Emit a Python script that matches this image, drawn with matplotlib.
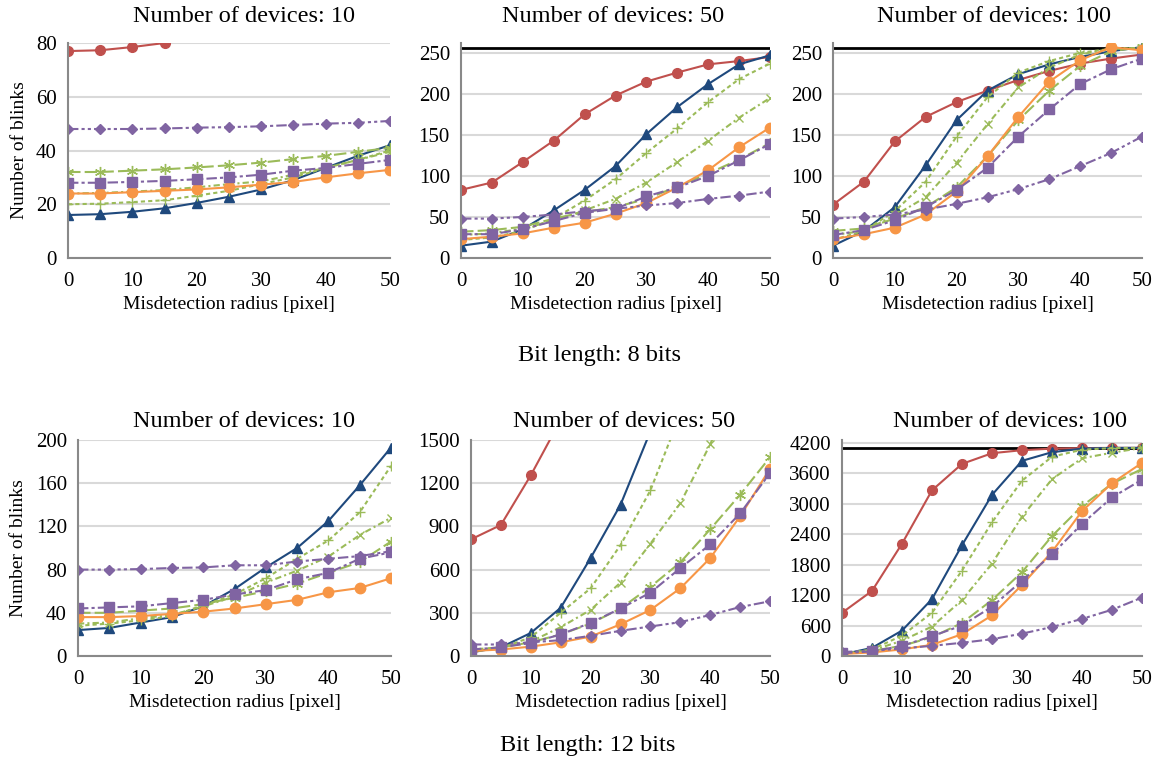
import matplotlib
matplotlib.use("Agg")
import matplotlib.pyplot as plt

plt.rcParams["font.family"] = ["Liberation Serif", "DejaVu Serif"]

# misdetection radius [pixel]
radius = [0, 5, 10, 15, 20, 25, 30, 35, 40, 45, 50]

# series order: red circle, navy triangle, green +, green x, green *,
#               orange circle, purple square, purple diamond
# 8 bits
b8_n10 = [
    [77, 77.3, 78.5, 80, 86, 90, 94, 98, 102, 106, 110],
    [16, 16.3, 17.2, 18.5, 20.5, 22.8, 25.5, 29, 33.5, 38, 42],
    [20, 20.2, 20.8, 21.5, 23.2, 25, 27.5, 30, 33.5, 36.5, 40],
    [24, 24.2, 24.7, 25.3, 26.3, 27.5, 28.5, 31, 33.5, 36.5, 39.5],
    [32, 32, 32.5, 33, 33.7, 34.5, 35.5, 36.8, 38, 39.5, 41],
    [24, 24, 24.5, 25, 25.5, 26.3, 27.3, 28.3, 30, 31.5, 32.8],
    [28, 28, 28.3, 28.7, 29.3, 30, 31, 32.5, 33.5, 35, 36.5],
    [48, 48, 48, 48.2, 48.5, 48.7, 49, 49.5, 50, 50.3, 51],
]
b8_n50 = [
    [83, 92, 117, 143, 175, 198, 215, 226, 236, 240, 245],
    [15, 20, 35, 58, 83, 112, 151, 184, 212, 236, 247],
    [22, 25, 33, 48, 70, 96, 128, 158, 190, 218, 237],
    [28, 30, 36, 45, 58, 72, 92, 117, 143, 171, 195],
    [32, 34, 38, 48, 56, 62, 72, 87, 103, 120, 140],
    [23, 26, 30, 37, 43, 54, 67, 86, 107, 135, 159],
    [29, 29, 35, 45, 55, 60, 75, 86, 100, 119, 139],
    [48, 48, 50, 53, 57, 60, 64, 67, 72, 76, 81],
]
b8_n100 = [
    [65, 93, 142, 172, 190, 204, 217, 228, 237, 243, 248],
    [15, 33, 62, 113, 168, 204, 224, 236, 245, 252, 257],
    [22, 33, 57, 93, 148, 196, 226, 240, 250, 255, 256],
    [28, 33, 52, 74, 116, 163, 208, 232, 248, 255, 256],
    [33, 36, 48, 62, 86, 124, 168, 204, 234, 252, 257],
    [23, 29, 37, 53, 81, 124, 172, 215, 241, 257, 253],
    [28, 34, 46, 62, 83, 110, 148, 181, 212, 230, 243],
    [48, 50, 53, 59, 66, 74, 84, 96, 112, 128, 148],
]
# 12 bits
b12_n10 = [
    [780, 790, 810, 840, 880, 930, 990, 1060, 1140, 1230, 1330],
    [24, 26, 31, 36, 46, 62, 82, 100, 125, 158, 193],
    [28, 30, 33, 37, 47, 57, 72, 90, 107, 133, 176],
    [30, 31, 35, 38, 46, 55, 68, 79, 92, 112, 128],
    [40, 40, 42, 44, 48, 54, 60, 67, 77, 87, 106],
    [36, 36, 37, 39, 41, 44, 48, 52, 59, 63, 72],
    [44, 45, 46, 49, 52, 57, 61, 71, 77, 90, 96],
    [80, 80, 80.5, 81.5, 82, 84, 84, 87.5, 90, 92.5, 97],
]
b12_n50 = [
    [810, 910, 1255, 1640, 2100, 2550, 2950, 3300, 3600, 3800, 3950],
    [25, 60, 160, 335, 680, 1050, 1560, 2100, 2600, 3000, 3300],
    [30, 55, 130, 300, 470, 770, 1150, 1680, 2200, 2650, 3000],
    [35, 60, 100, 200, 320, 510, 780, 1060, 1470, 1950, 2400],
    [45, 60, 95, 150, 225, 330, 480, 650, 880, 1120, 1380],
    [35, 45, 65, 95, 135, 220, 320, 470, 680, 970, 1300],
    [45, 60, 90, 150, 230, 330, 440, 610, 775, 990, 1270],
    [80, 80, 95, 110, 140, 175, 205, 235, 285, 340, 380],
]
b12_n100 = [
    [850, 1280, 2210, 3260, 3780, 3990, 4050, 4080, 4090, 4095, 4095],
    [30, 160, 500, 1120, 2180, 3170, 3840, 4010, 4080, 4095, 4095],
    [40, 130, 400, 850, 1680, 2630, 3450, 3920, 4060, 4090, 4095],
    [50, 110, 300, 580, 1100, 1820, 2740, 3480, 3890, 4000, 4095],
    [55, 100, 200, 370, 650, 1100, 1650, 2360, 2950, 3390, 3680],
    [40, 70, 130, 220, 430, 800, 1400, 2050, 2850, 3400, 3800],
    [55, 90, 200, 390, 600, 970, 1480, 2000, 2600, 3120, 3470],
    [80, 100, 150, 200, 260, 330, 440, 570, 730, 910, 1150],
]

red, navy, green, orange, purple = "#C0504D", "#1F497D", "#9BBB59", "#F79646", "#8064A2"
styles = [
    dict(color=red, marker="o", ms=7, ls="-"),
    dict(color=navy, marker="^", ms=7.5, ls="-"),
    dict(color=green, marker="+", ms=7, mew=1, ls=(0, (2, 1.5))),
    dict(color=green, marker="x", ms=6, mew=1, ls=(0, (3, 1.5, 1, 1.5))),
    dict(color=green, marker=(6, 2, 0), ms=8, mew=1, ls=(0, (6, 2))),
    dict(color=orange, marker="o", ms=7.5, ls="-"),
    dict(color=purple, marker="s", ms=7, ls=(0, (5, 1.5, 1.5, 1.5))),
    dict(color=purple, marker="D", ms=5.5, ls=(0, (5, 1.5, 1.5, 1.5, 1.5, 1.5))),
]

W, H = 1162, 765
fig = plt.figure(figsize=(W / 100, H / 100), dpi=100)

# panel: data, bits, ylim top, yticks, (left, right, top, bottom) px, title centre
panels = [
    (b8_n10, 8, 80, range(0, 81, 20), (68, 390, 43, 258), "Number of devices: 10", (244, 17), True),
    (b8_n50, 8, 262, range(0, 251, 50), (461, 770, 43, 258), "Number of devices: 50", (613, 17), False),
    (b8_n100, 8, 262, range(0, 251, 50), (833, 1142, 43, 258), "Number of devices: 100", (994, 17), False),
    (b12_n10, 12, 200, range(0, 201, 40), (78, 391, 440, 656), "Number of devices: 10", (244, 421), True),
    (b12_n50, 12, 1500, range(0, 1501, 300), (471, 770, 440, 656), "Number of devices: 50", (624, 421), False),
    (b12_n100, 12, 4250, range(0, 4201, 600), (842, 1142, 440, 656), "Number of devices: 100", (1010, 421), False),
]

for data, bits, ytop, yticks, (l, r, t, b), title, (tx, ty), ylab in panels:
    ax = fig.add_axes([l / W, 1 - b / H, (r - l) / W, (b - t) / H])
    ax.set_xlim(0, 50)
    ax.set_ylim(0, ytop)
    ax.set_xticks(range(0, 51, 10))
    ax.set_yticks(list(yticks))
    ax.grid(axis="y", color="#D9D9D9", lw=1.5)
    ax.set_axisbelow(True)
    for s in ("top", "right"):
        ax.spines[s].set_visible(False)
    for s in ("left", "bottom"):
        ax.spines[s].set_color("#898989")
        ax.spines[s].set_linewidth(1.5)
    ax.tick_params(length=0, labelsize=15)
    ax.tick_params(axis="x", pad=10)
    ax.tick_params(axis="y", pad=8)
    ax.axhline(2 ** bits, color="black", lw=2, zorder=1.5)
    for vals, st in zip(data, styles):
        ax.plot(radius, vals, lw=1.5, clip_on=True, **st)
    ax.set_xlabel("Misdetection radius [pixel]", fontsize=14, labelpad=4)
    if ylab:
        ax.set_ylabel("Number of blinks", fontsize=14, labelpad=6)
    fig.text(tx / W, 1 - ty / H, title, fontsize=17.5, ha="center", va="center")

fig.text(600 / W, 1 - 355 / H, "Bit length: 8 bits", fontsize=17.5, ha="center", va="center")
fig.text(588 / W, 1 - 745 / H, "Bit length: 12 bits", fontsize=17.5, ha="center", va="center")

fig.savefig("out.png", dpi=100)
